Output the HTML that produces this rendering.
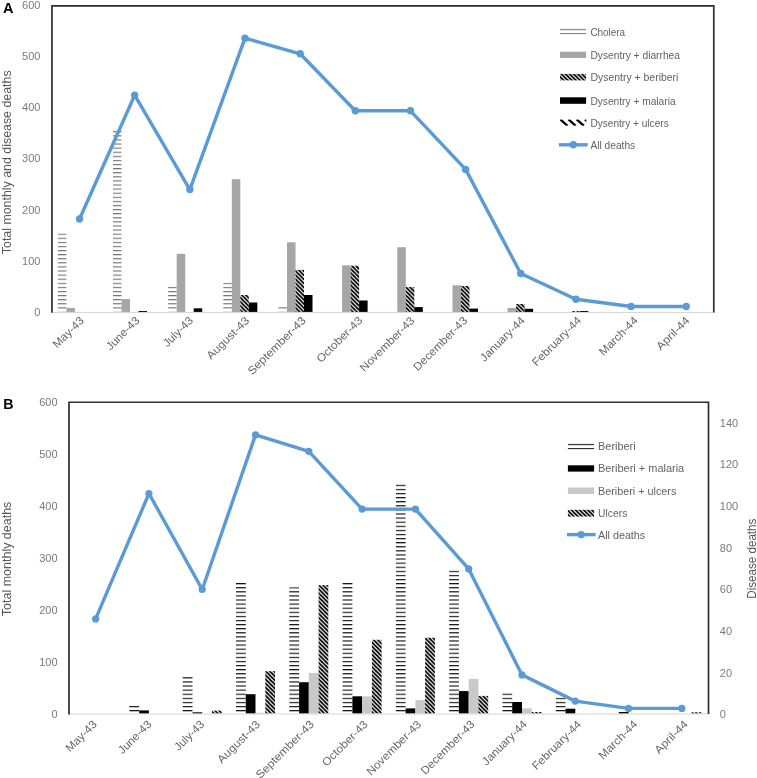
<!DOCTYPE html>
<html lang="en"><head><meta charset="utf-8"><title>Monthly deaths by disease</title>
<style>
html,body{margin:0;padding:0;background:#fff;}
body{width:757px;height:778px;overflow:hidden;}
svg{display:block;}
text{font-family:"Liberation Sans",Arial,sans-serif;}
.tk{font-size:11px;fill:#7a7a7a;}
.xl{font-size:11.2px;fill:#666;}
.lg{font-size:10.2px;fill:#636363;}
.ti{font-size:12px;fill:#595959;}
.pl{font-size:14.5px;font-weight:bold;fill:#000;}
</style></head><body>
<svg width="757" height="778" viewBox="0 0 757 778">
<clipPath id="cu"><rect x="559.8" y="119.5" width="26.5" height="6.3"/></clipPath>
<defs>
<pattern id="hA" patternUnits="userSpaceOnUse" x="0" y="307.35" width="40" height="4.096"><rect x="0" y="0" width="40" height="1.1" fill="#707070"/></pattern>
<pattern id="hB" patternUnits="userSpaceOnUse" x="0" y="710.05" width="40" height="4.096"><rect x="0" y="0" width="40" height="1.15" fill="#111"/></pattern>
<pattern id="dg" patternUnits="userSpaceOnUse" x="0" y="0" width="4.096" height="4.096"><rect width="4.096" height="4.096" fill="#fff"/><path d="M-4.096,-4.096 L8.192,8.192 M0,-4.096 L8.192,4.096 M-4.096,0 L4.096,8.192" stroke="#000" stroke-width="1.75" fill="none"/></pattern>
</defs>
<rect x="57.9" y="233.3" width="8.5" height="78" fill="url(#hA)"/>
<rect x="66.4" y="308" width="8.5" height="4" fill="#a6a6a6"/>
<rect x="113" y="130.3" width="8.5" height="181" fill="url(#hA)"/>
<rect x="121.5" y="299" width="8.5" height="13" fill="#a6a6a6"/>
<rect x="138.5" y="311" width="8.5" height="1" fill="#000"/>
<rect x="168.2" y="286.2" width="8.5" height="25.1" fill="url(#hA)"/>
<rect x="176.7" y="253.8" width="8.5" height="58.2" fill="#a6a6a6"/>
<rect x="193.7" y="308.3" width="8.5" height="3.7" fill="#000"/>
<rect x="223.3" y="282.8" width="8.5" height="28.5" fill="url(#hA)"/>
<rect x="231.8" y="179.2" width="8.5" height="132.8" fill="#a6a6a6"/>
<rect x="240.3" y="295" width="8.5" height="17" fill="url(#dg)"/>
<rect x="248.8" y="302.5" width="8.5" height="9.5" fill="#000"/>
<rect x="278.5" y="307" width="8.5" height="4.3" fill="url(#hA)"/>
<rect x="287" y="242.3" width="8.5" height="69.7" fill="#a6a6a6"/>
<rect x="295.5" y="269.9" width="8.5" height="42.1" fill="url(#dg)"/>
<rect x="304" y="295" width="8.5" height="17" fill="#000"/>
<rect x="342.1" y="265.4" width="8.5" height="46.6" fill="#a6a6a6"/>
<rect x="350.6" y="265.7" width="8.5" height="46.3" fill="url(#dg)"/>
<rect x="359.1" y="300.5" width="8.5" height="11.5" fill="#000"/>
<rect x="397.3" y="247.2" width="8.5" height="64.8" fill="#a6a6a6"/>
<rect x="405.8" y="287" width="8.5" height="25" fill="url(#dg)"/>
<rect x="414.3" y="307.1" width="8.5" height="4.9" fill="#000"/>
<rect x="452.5" y="285.3" width="8.5" height="26.7" fill="#a6a6a6"/>
<rect x="461" y="286" width="8.5" height="26" fill="url(#dg)"/>
<rect x="469.5" y="308.6" width="8.5" height="3.4" fill="#000"/>
<rect x="507.6" y="308" width="8.5" height="4" fill="#a6a6a6"/>
<rect x="516.1" y="304" width="8.5" height="8" fill="url(#dg)"/>
<rect x="524.6" y="308.8" width="8.5" height="3.2" fill="#000"/>
<rect x="571.3" y="311" width="8.5" height="1" fill="url(#dg)"/>
<rect x="579.8" y="311" width="8.5" height="1" fill="#000"/>
<line x1="51.95" y1="312.4" x2="713.8" y2="312.4" stroke="#d4d4d4" stroke-width="1"/>
<path d="M51.95,312.79999999999995 V5.95 H713.8 V312.5" fill="none" stroke="#2e2e2e" stroke-width="1.7"/>
<polyline points="79.53,219 134.68,95.2 189.84,189.6 244.99,38.2 300.14,53.8 355.3,110.8 410.45,110.8 465.61,169.4 520.76,273.5 575.91,299.2 631.07,306.5 686.22,306.5" fill="none" stroke="#5b9bd5" stroke-width="3.4" stroke-linejoin="round" stroke-linecap="round"/>
<circle cx="79.53" cy="219" r="3.7" fill="#5b9bd5"/>
<circle cx="134.68" cy="95.2" r="3.7" fill="#5b9bd5"/>
<circle cx="189.84" cy="189.6" r="3.7" fill="#5b9bd5"/>
<circle cx="244.99" cy="38.2" r="3.7" fill="#5b9bd5"/>
<circle cx="300.14" cy="53.8" r="3.7" fill="#5b9bd5"/>
<circle cx="355.3" cy="110.8" r="3.7" fill="#5b9bd5"/>
<circle cx="410.45" cy="110.8" r="3.7" fill="#5b9bd5"/>
<circle cx="465.61" cy="169.4" r="3.7" fill="#5b9bd5"/>
<circle cx="520.76" cy="273.5" r="3.7" fill="#5b9bd5"/>
<circle cx="575.91" cy="299.2" r="3.7" fill="#5b9bd5"/>
<circle cx="631.07" cy="306.5" r="3.7" fill="#5b9bd5"/>
<circle cx="686.22" cy="306.5" r="3.7" fill="#5b9bd5"/>
<text x="40.4" y="315.7" text-anchor="end" class="tk">0</text>
<text x="40.4" y="264.62" text-anchor="end" class="tk">100</text>
<text x="40.4" y="213.55" text-anchor="end" class="tk">200</text>
<text x="40.4" y="162.47" text-anchor="end" class="tk">300</text>
<text x="40.4" y="111.4" text-anchor="end" class="tk">400</text>
<text x="40.4" y="60.32" text-anchor="end" class="tk">500</text>
<text x="40.4" y="9.25" text-anchor="end" class="tk">600</text>
<text transform="translate(11.0,162.3) rotate(-90)" text-anchor="middle" class="ti" textLength="183.8" lengthAdjust="spacingAndGlyphs">Total monthly and disease deaths</text>
<text x="3" y="13.2" class="pl">A</text>
<text transform="translate(84.7,321.2) rotate(-45)" text-anchor="end" class="xl" textLength="38.95" lengthAdjust="spacingAndGlyphs">May-43</text>
<text transform="translate(140.2,321.2) rotate(-45)" text-anchor="end" class="xl" textLength="41.9" lengthAdjust="spacingAndGlyphs">June-43</text>
<text transform="translate(193.8,321.2) rotate(-45)" text-anchor="end" class="xl" textLength="37.2" lengthAdjust="spacingAndGlyphs">July-43</text>
<text transform="translate(250,321.2) rotate(-45)" text-anchor="end" class="xl" textLength="55.0" lengthAdjust="spacingAndGlyphs">August-43</text>
<text transform="translate(306.5,321.2) rotate(-45)" text-anchor="end" class="xl" textLength="76.9" lengthAdjust="spacingAndGlyphs">September-43</text>
<text transform="translate(363.05,321.2) rotate(-45)" text-anchor="end" class="xl" textLength="59.5" lengthAdjust="spacingAndGlyphs">October-43</text>
<text transform="translate(415.3,321.2) rotate(-45)" text-anchor="end" class="xl" textLength="72.1" lengthAdjust="spacingAndGlyphs">November-43</text>
<text transform="translate(468,321.2) rotate(-45)" text-anchor="end" class="xl" textLength="71.0" lengthAdjust="spacingAndGlyphs">December-43</text>
<text transform="translate(525.5,321.2) rotate(-45)" text-anchor="end" class="xl" textLength="57.95" lengthAdjust="spacingAndGlyphs">January-44</text>
<text transform="translate(582,321.2) rotate(-45)" text-anchor="end" class="xl" textLength="64.4" lengthAdjust="spacingAndGlyphs">February-44</text>
<text transform="translate(638.5,321.2) rotate(-45)" text-anchor="end" class="xl" textLength="49.5" lengthAdjust="spacingAndGlyphs">March-44</text>
<text transform="translate(690.3,321.2) rotate(-45)" text-anchor="end" class="xl" textLength="41.7" lengthAdjust="spacingAndGlyphs">April-44</text>
<rect x="560.0" y="28.3" width="26.1" height="6.2" fill="url(#hA)"/>
<rect x="560.0" y="51.7" width="26.1" height="6.3" fill="#a6a6a6"/>
<rect x="560.0" y="73.9" width="26.1" height="6.5" fill="url(#dg)"/>
<rect x="560.0" y="97.3" width="26.1" height="6.5" fill="#000"/>
<g clip-path="url(#cu)">
<line x1="560.3" y1="119.4" x2="567.5" y2="125.8" stroke="#000" stroke-width="2.3"/>
<line x1="568.5" y1="119.4" x2="575.7" y2="125.8" stroke="#000" stroke-width="2.3"/>
<line x1="576.7" y1="119.4" x2="583.9" y2="125.8" stroke="#000" stroke-width="2.3"/>
<line x1="584.9" y1="119.4" x2="592.1" y2="125.8" stroke="#000" stroke-width="2.3"/>
</g>
<line x1="558.9" y1="144.8" x2="587.6" y2="144.8" stroke="#5b9bd5" stroke-width="3.4"/><circle cx="573.3" cy="144.8" r="3.7" fill="#5b9bd5"/>
<text x="590.4" y="36.15" class="lg" textLength="34.7" lengthAdjust="spacingAndGlyphs">Cholera</text>
<text x="590.4" y="58.8" class="lg" textLength="89.6" lengthAdjust="spacingAndGlyphs">Dysentry + diarrhea</text>
<text x="590.4" y="81.15" class="lg" textLength="88.0" lengthAdjust="spacingAndGlyphs">Dysentry + beriberi</text>
<text x="590.4" y="104.5" class="lg" textLength="85.2" lengthAdjust="spacingAndGlyphs">Dysentry + malaria</text>
<text x="590.4" y="126.85" class="lg" textLength="78.3" lengthAdjust="spacingAndGlyphs">Dysentry + ulcers</text>
<text x="590.4" y="148.75" class="lg" textLength="44.8" lengthAdjust="spacingAndGlyphs">All deaths</text>
<rect x="129.4" y="705.6" width="9.8" height="8" fill="url(#hB)"/>
<rect x="139.2" y="710.4" width="9.7" height="3.2" fill="#000"/>
<rect x="182.7" y="677" width="9.8" height="36.6" fill="url(#hB)"/>
<rect x="192.5" y="712.3" width="9.7" height="1.3" fill="#000"/>
<rect x="212" y="710.6" width="9.7" height="3" fill="url(#dg)"/>
<rect x="236" y="582.3" width="9.8" height="131.3" fill="url(#hB)"/>
<rect x="245.8" y="694.2" width="9.7" height="19.4" fill="#000"/>
<rect x="255.5" y="712.8" width="9.8" height="0.8" fill="#c9c9c9"/>
<rect x="265.3" y="671.2" width="9.7" height="42.4" fill="url(#dg)"/>
<rect x="289.3" y="587.4" width="9.8" height="126.2" fill="url(#hB)"/>
<rect x="299.1" y="682.2" width="9.7" height="31.4" fill="#000"/>
<rect x="308.8" y="672.9" width="9.8" height="40.7" fill="#c9c9c9"/>
<rect x="318.6" y="585.1" width="9.7" height="128.5" fill="url(#dg)"/>
<rect x="342.6" y="582.3" width="9.8" height="131.3" fill="url(#hB)"/>
<rect x="352.4" y="696.3" width="9.7" height="17.3" fill="#000"/>
<rect x="362.1" y="696.3" width="9.8" height="17.3" fill="#c9c9c9"/>
<rect x="371.9" y="639.8" width="9.7" height="73.8" fill="url(#dg)"/>
<rect x="395.9" y="483.6" width="9.7" height="230" fill="url(#hB)"/>
<rect x="405.6" y="708.4" width="9.8" height="5.2" fill="#000"/>
<rect x="415.4" y="700.1" width="9.7" height="13.5" fill="#c9c9c9"/>
<rect x="425.1" y="637.7" width="9.8" height="75.9" fill="url(#dg)"/>
<rect x="449.2" y="570.1" width="9.7" height="143.5" fill="url(#hB)"/>
<rect x="458.9" y="691.1" width="9.8" height="22.5" fill="#000"/>
<rect x="468.7" y="678.9" width="9.7" height="34.7" fill="#c9c9c9"/>
<rect x="478.4" y="695.9" width="9.8" height="17.7" fill="url(#dg)"/>
<rect x="502.5" y="693.1" width="9.7" height="20.5" fill="url(#hB)"/>
<rect x="512.2" y="702" width="9.8" height="11.6" fill="#000"/>
<rect x="522" y="708.4" width="9.7" height="5.2" fill="#c9c9c9"/>
<rect x="531.7" y="712" width="9.8" height="1.6" fill="url(#dg)"/>
<rect x="555.8" y="697.5" width="9.7" height="16.1" fill="url(#hB)"/>
<rect x="565.5" y="708.7" width="9.8" height="4.9" fill="#000"/>
<rect x="618.8" y="712" width="9.8" height="1.6" fill="#000"/>
<rect x="691.6" y="712.2" width="9.8" height="1.4" fill="url(#dg)"/>
<line x1="69" y1="714.0" x2="708.5" y2="714.0" stroke="#d4d4d4" stroke-width="1"/>
<path d="M69,714.4 V402.25 H708.5 V714.1" fill="none" stroke="#2e2e2e" stroke-width="1.7"/>
<polyline points="95.65,618.9 148.94,493.5 202.23,589.5 255.52,434.9 308.81,451.3 362.1,509.1 415.4,509.1 468.69,568.9 521.98,674.9 575.27,701.1 628.56,708.4 681.85,708.4" fill="none" stroke="#5b9bd5" stroke-width="3.4" stroke-linejoin="round" stroke-linecap="round"/>
<circle cx="95.65" cy="618.9" r="3.6" fill="#5b9bd5"/>
<circle cx="148.94" cy="493.5" r="3.6" fill="#5b9bd5"/>
<circle cx="202.23" cy="589.5" r="3.6" fill="#5b9bd5"/>
<circle cx="255.52" cy="434.9" r="3.6" fill="#5b9bd5"/>
<circle cx="308.81" cy="451.3" r="3.6" fill="#5b9bd5"/>
<circle cx="362.1" cy="509.1" r="3.6" fill="#5b9bd5"/>
<circle cx="415.4" cy="509.1" r="3.6" fill="#5b9bd5"/>
<circle cx="468.69" cy="568.9" r="3.6" fill="#5b9bd5"/>
<circle cx="521.98" cy="674.9" r="3.6" fill="#5b9bd5"/>
<circle cx="575.27" cy="701.1" r="3.6" fill="#5b9bd5"/>
<circle cx="628.56" cy="708.4" r="3.6" fill="#5b9bd5"/>
<circle cx="681.85" cy="708.4" r="3.6" fill="#5b9bd5"/>
<text x="57.6" y="718.2" text-anchor="end" class="tk">0</text>
<text x="57.6" y="666.24" text-anchor="end" class="tk">100</text>
<text x="57.6" y="614.28" text-anchor="end" class="tk">200</text>
<text x="57.6" y="562.33" text-anchor="end" class="tk">300</text>
<text x="57.6" y="510.37" text-anchor="end" class="tk">400</text>
<text x="57.6" y="458.41" text-anchor="end" class="tk">500</text>
<text x="57.6" y="406.45" text-anchor="end" class="tk">600</text>
<text x="719.8" y="718.2" class="tk">0</text>
<text x="719.8" y="676.53" class="tk">20</text>
<text x="719.8" y="634.86" class="tk">40</text>
<text x="719.8" y="593.18" class="tk">60</text>
<text x="719.8" y="551.51" class="tk">80</text>
<text x="719.8" y="509.84" class="tk">100</text>
<text x="719.8" y="468.17" class="tk">120</text>
<text x="719.8" y="426.5" class="tk">140</text>
<text transform="translate(11.0,558.9) rotate(-90)" text-anchor="middle" class="ti" textLength="114.5" lengthAdjust="spacingAndGlyphs">Total monthly deaths</text>
<text transform="translate(755.5,558.7) rotate(-90)" text-anchor="middle" class="ti" textLength="80.1" lengthAdjust="spacingAndGlyphs">Disease deaths</text>
<text x="3.2" y="409.3" class="pl" style="font-size:15.4px" textLength="10.3" lengthAdjust="spacingAndGlyphs">B</text>
<text transform="translate(97.55,725) rotate(-45)" text-anchor="end" class="xl" textLength="38.95" lengthAdjust="spacingAndGlyphs">May-43</text>
<text transform="translate(152.2,725) rotate(-45)" text-anchor="end" class="xl" textLength="41.9" lengthAdjust="spacingAndGlyphs">June-43</text>
<text transform="translate(205,725) rotate(-45)" text-anchor="end" class="xl" textLength="37.2" lengthAdjust="spacingAndGlyphs">July-43</text>
<text transform="translate(260.7,725) rotate(-45)" text-anchor="end" class="xl" textLength="55.0" lengthAdjust="spacingAndGlyphs">August-43</text>
<text transform="translate(314.7,725) rotate(-45)" text-anchor="end" class="xl" textLength="76.9" lengthAdjust="spacingAndGlyphs">September-43</text>
<text transform="translate(368.5,725) rotate(-45)" text-anchor="end" class="xl" textLength="59.5" lengthAdjust="spacingAndGlyphs">October-43</text>
<text transform="translate(422,725) rotate(-45)" text-anchor="end" class="xl" textLength="72.1" lengthAdjust="spacingAndGlyphs">November-43</text>
<text transform="translate(475.4,725) rotate(-45)" text-anchor="end" class="xl" textLength="71.0" lengthAdjust="spacingAndGlyphs">December-43</text>
<text transform="translate(527.5,725) rotate(-45)" text-anchor="end" class="xl" textLength="57.95" lengthAdjust="spacingAndGlyphs">January-44</text>
<text transform="translate(582,725) rotate(-45)" text-anchor="end" class="xl" textLength="64.4" lengthAdjust="spacingAndGlyphs">February-44</text>
<text transform="translate(638,725) rotate(-45)" text-anchor="end" class="xl" textLength="49.5" lengthAdjust="spacingAndGlyphs">March-44</text>
<text transform="translate(688.6,725) rotate(-45)" text-anchor="end" class="xl" textLength="41.7" lengthAdjust="spacingAndGlyphs">April-44</text>
<rect x="567.9" y="443.3" width="26.2" height="6.2" fill="url(#hB)"/>
<rect x="567.9" y="465.3" width="26.2" height="6.3" fill="#000"/>
<rect x="567.9" y="487.5" width="26.2" height="6.5" fill="#c9c9c9"/>
<rect x="567.9" y="509.8" width="26.2" height="6.8" fill="url(#dg)"/>
<line x1="566.9" y1="534.6" x2="595.7" y2="534.6" stroke="#5b9bd5" stroke-width="3.4"/><circle cx="581.2" cy="534.6" r="3.7" fill="#5b9bd5"/>
<text x="598.0" y="450.25" class="lg" textLength="37.7" lengthAdjust="spacingAndGlyphs">Beriberi</text>
<text x="598.0" y="472.35" class="lg" textLength="86.2" lengthAdjust="spacingAndGlyphs">Beriberi + malaria</text>
<text x="598.0" y="494.75" class="lg" textLength="78.3" lengthAdjust="spacingAndGlyphs">Beriberi + ulcers</text>
<text x="598.0" y="517.15" class="lg" textLength="29.4" lengthAdjust="spacingAndGlyphs">Ulcers</text>
<text x="598.0" y="538.55" class="lg" textLength="47.2" lengthAdjust="spacingAndGlyphs">All deaths</text>
</svg>
</body></html>
